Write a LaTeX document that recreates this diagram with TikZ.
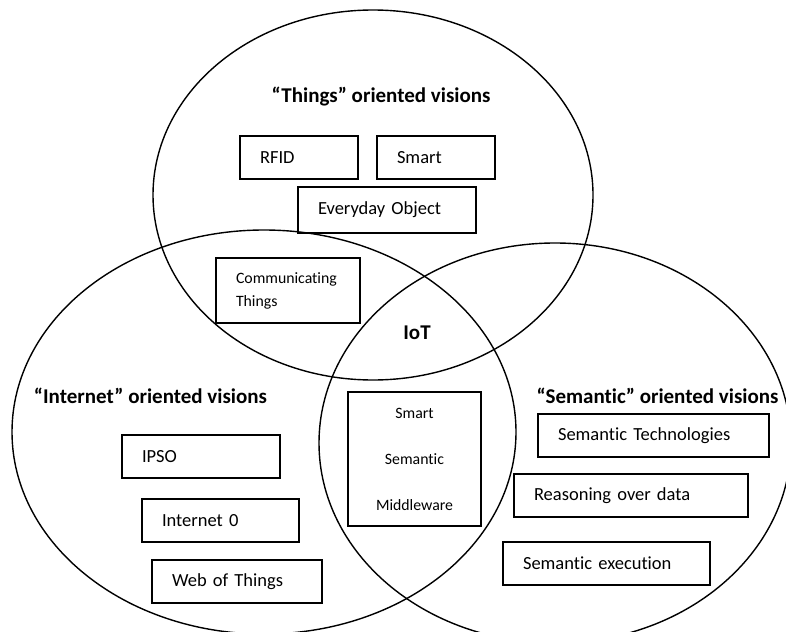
\documentclass[tikz,border=0pt]{standalone}
\usepackage{fontspec}
\setmainfont{Carlito}[Ligatures=NoCommon]
\usepackage{tikz}
\tikzset{
  visionring/.style={line width=1.4pt},
  visionbox/.style={
    rectangle, draw=black, line width=1.8pt, inner xsep=20pt, inner ysep=2pt,
    text width=#1, align=left, minimum height=43pt,
    font=\fontsize{18.5}{22}\selectfont
  },
  smallbox/.style={
    rectangle, draw=black, line width=1.8pt, inner xsep=20pt, inner ysep=2pt,
    text width=#1, align=left, font=\fontsize{15.8}{23}\selectfont
  },
  visiontitle/.style={font=\fontsize{21}{25}\selectfont\bfseries, inner sep=0pt}
}

\begin{document}
\begin{tikzpicture}[x=1pt, y=-1pt]
\clip (0,0) rectangle (786,631);
\useasboundingbox (0,0) rectangle (786,631);

\draw[visionring] (373,195) ellipse [x radius=220, y radius=185];
\draw[visionring] (264,432) ellipse [x radius=252, y radius=202];
\draw[visionring] (555,443) ellipse [x radius=236, y radius=200];

\node[visiontitle] (thingstitle) at (381,97) {``Things'' oriented visions};
\node[visiontitle] (nettitle) at (150.5,396) {``Internet'' oriented visions};
\node[visiontitle] (semtitle) at (657.5,396) {``Semantic'' oriented visions};
\node[visiontitle] (iot) at (417,333) {IoT};

\node[visionbox=78pt] (rfid) at (299,157.5) {RFID};
\node[visionbox=78pt] (smart) at (436,157.5) {Smart};
\node[visionbox=138pt, minimum height=46pt] (everyday) at (387,210) {Everyday Object};
\node[smallbox=104pt, minimum height=65pt] (communicating) at (288,290.5) {Communicating\\Things};

\node[smallbox=93pt, align=center, minimum height=134pt,
      font=\fontsize{15.8}{46}\selectfont] (middleware) at (414.5,459)
      {Smart\\Semantic\\Middleware};

\node[visionbox=118pt] (ipso) at (201,456.5) {IPSO};
\node[visionbox=117pt] (internetzero) at (220.5,520.5) {Internet 0};
\node[visionbox=130pt] (webthings) at (237,581.5) {Web of Things};

\node[visionbox=191pt] (semtech) at (653.5,435.5) {Semantic Technologies};
\node[visionbox=194pt] (reasoning) at (631,495.5) {Reasoning over data};
\node[visionbox=167pt] (semexec) at (606.5,563.5) {Semantic execution};
\end{tikzpicture}
\end{document}
